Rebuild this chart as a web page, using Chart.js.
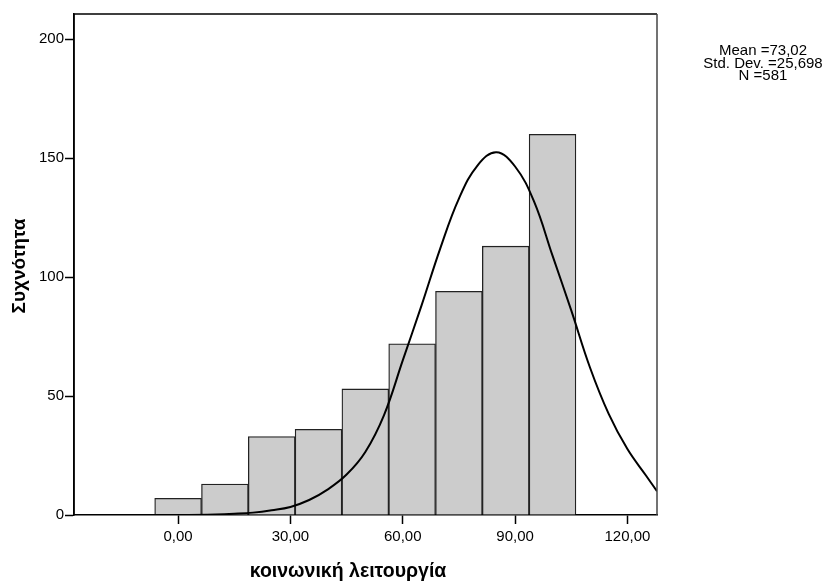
<!DOCTYPE html>
<html>
<head>
<meta charset="utf-8">
<script src="https://cdn.jsdelivr.net/npm/chart.js@4"></script>
<style>
  body { margin: 0; background: #fff; }
</style>
</head>
<body>
<canvas id="histChart" width="826" height="583"></canvas>
<script>
// Histogram bins (centres) and frequencies
const binCenters = [0, 12.5, 25, 37.5, 50, 62.5, 75, 87.5, 100];
const counts = [7, 13, 33, 36, 53, 72, 94, 113, 160];

// Normal curve, every 5 units
const curveX = [-27.8, -20, -10, 0, 10, 15, 20, 25, 30, 35, 40, 45, 50, 55, 60, 65, 70, 75, 80, 85, 90, 95, 100, 105, 110, 115, 120, 125, 127.9];
const curveY = [0, 0, 0, 0, 0.2, 0.5, 1, 2, 3.4, 6.3, 10.8, 17, 26.5, 42, 65, 88, 112, 133, 147, 152.5, 146.5, 132, 109, 86, 62, 42.5, 27.7, 16.5, 10];

const xTicks = [0, 30, 60, 90, 120];
const yTicks = [0, 50, 100, 150, 200];

const statLines = ['Mean =73,02', 'Std. Dev. =25,698', 'N =581'];
const xTitle = 'κοινωνική λειτουργία';
const yTitle = 'Συχνότητα';

const FONT = "'Liberation Sans', Arial, sans-serif";

// Box around the plot, axis titles and the stats block
const decorations = {
    id: 'decorations',
    afterDraw(chart) {
        const c = chart.ctx;
        const a = chart.chartArea;
        c.save();
        c.strokeStyle = '#000';
        c.lineWidth = 1.5;
        c.beginPath();
        c.moveTo(a.left, a.bottom);
        c.lineTo(a.left, a.top);
        c.lineTo(a.right, a.top);
        c.stroke();
        c.strokeStyle = '#444';
        c.beginPath();
        c.moveTo(a.right, a.top);
        c.lineTo(a.right, a.bottom);
        c.stroke();

        c.fillStyle = '#000';
        c.textAlign = 'center';
        c.textBaseline = 'middle';
        c.font = 'bold 19.5px ' + FONT;
        c.fillText(xTitle, 348, 572);

        c.save();
        c.translate(20, 266);
        c.rotate(-Math.PI / 2);
        c.font = 'bold 19px ' + FONT;
        c.fillText(yTitle, 0, 0);
        c.restore();

        c.font = '15px ' + FONT;
        statLines.forEach((t, i) => c.fillText(t, 763, 51 + i * 12.5));
        c.restore();
    }
};

const ctx = document.getElementById('histChart').getContext('2d');
new Chart(ctx, {
    type: 'bar',
    data: {
        datasets: [{
            type: 'line',
            data: curveX.map((x, i) => ({ x: x, y: curveY[i] })),
            borderColor: '#000',
            borderWidth: 2,
            pointRadius: 0,
            tension: 0.4,
            fill: false,
            order: 0
        }, {
            type: 'bar',
            data: binCenters.map((x, i) => ({ x: x, y: counts[i] })),
            backgroundColor: '#cccccc',
            borderColor: '#222',
            borderWidth: 1.3,
            categoryPercentage: 1,
            barPercentage: 1,
            order: 1
        }]
    },
    options: {
        responsive: false,
        animation: false,
        layout: { padding: { top: 14, right: 169, left: 0, bottom: 0 } },
        plugins: {
            legend: { display: false },
            tooltip: { enabled: false }
        },
        scales: {
            x: {
                type: 'linear',
                min: -27.8,
                max: 127.9,
                offset: false,
                afterFit: s => { s.height = 68; },
                afterBuildTicks: s => { s.ticks = xTicks.map(v => ({ value: v })); },
                grid: { offset: false, drawOnChartArea: false, drawTicks: true, tickLength: 9, tickColor: '#000', tickWidth: 1.5 },
                border: { display: true, color: '#000', width: 1.5 },
                ticks: {
                    color: '#000',
                    padding: 4,
                    maxRotation: 0,
                    font: { family: FONT, size: 15 },
                    callback: v => v.toFixed(2).replace('.', ',')
                }
            },
            y: {
                min: 0,
                max: 210.6,
                afterFit: s => { s.width = 74; },
                afterBuildTicks: s => { s.ticks = yTicks.map(v => ({ value: v })); },
                grid: { drawOnChartArea: false, drawTicks: true, tickLength: 9, tickColor: '#000', tickWidth: 1.5 },
                border: { display: true, color: '#000', width: 1.5 },
                ticks: {
                    color: '#000',
                    padding: 1,
                    font: { family: FONT, size: 15 }
                }
            }
        }
    },
    plugins: [decorations]
});
</script>
</body>
</html>
